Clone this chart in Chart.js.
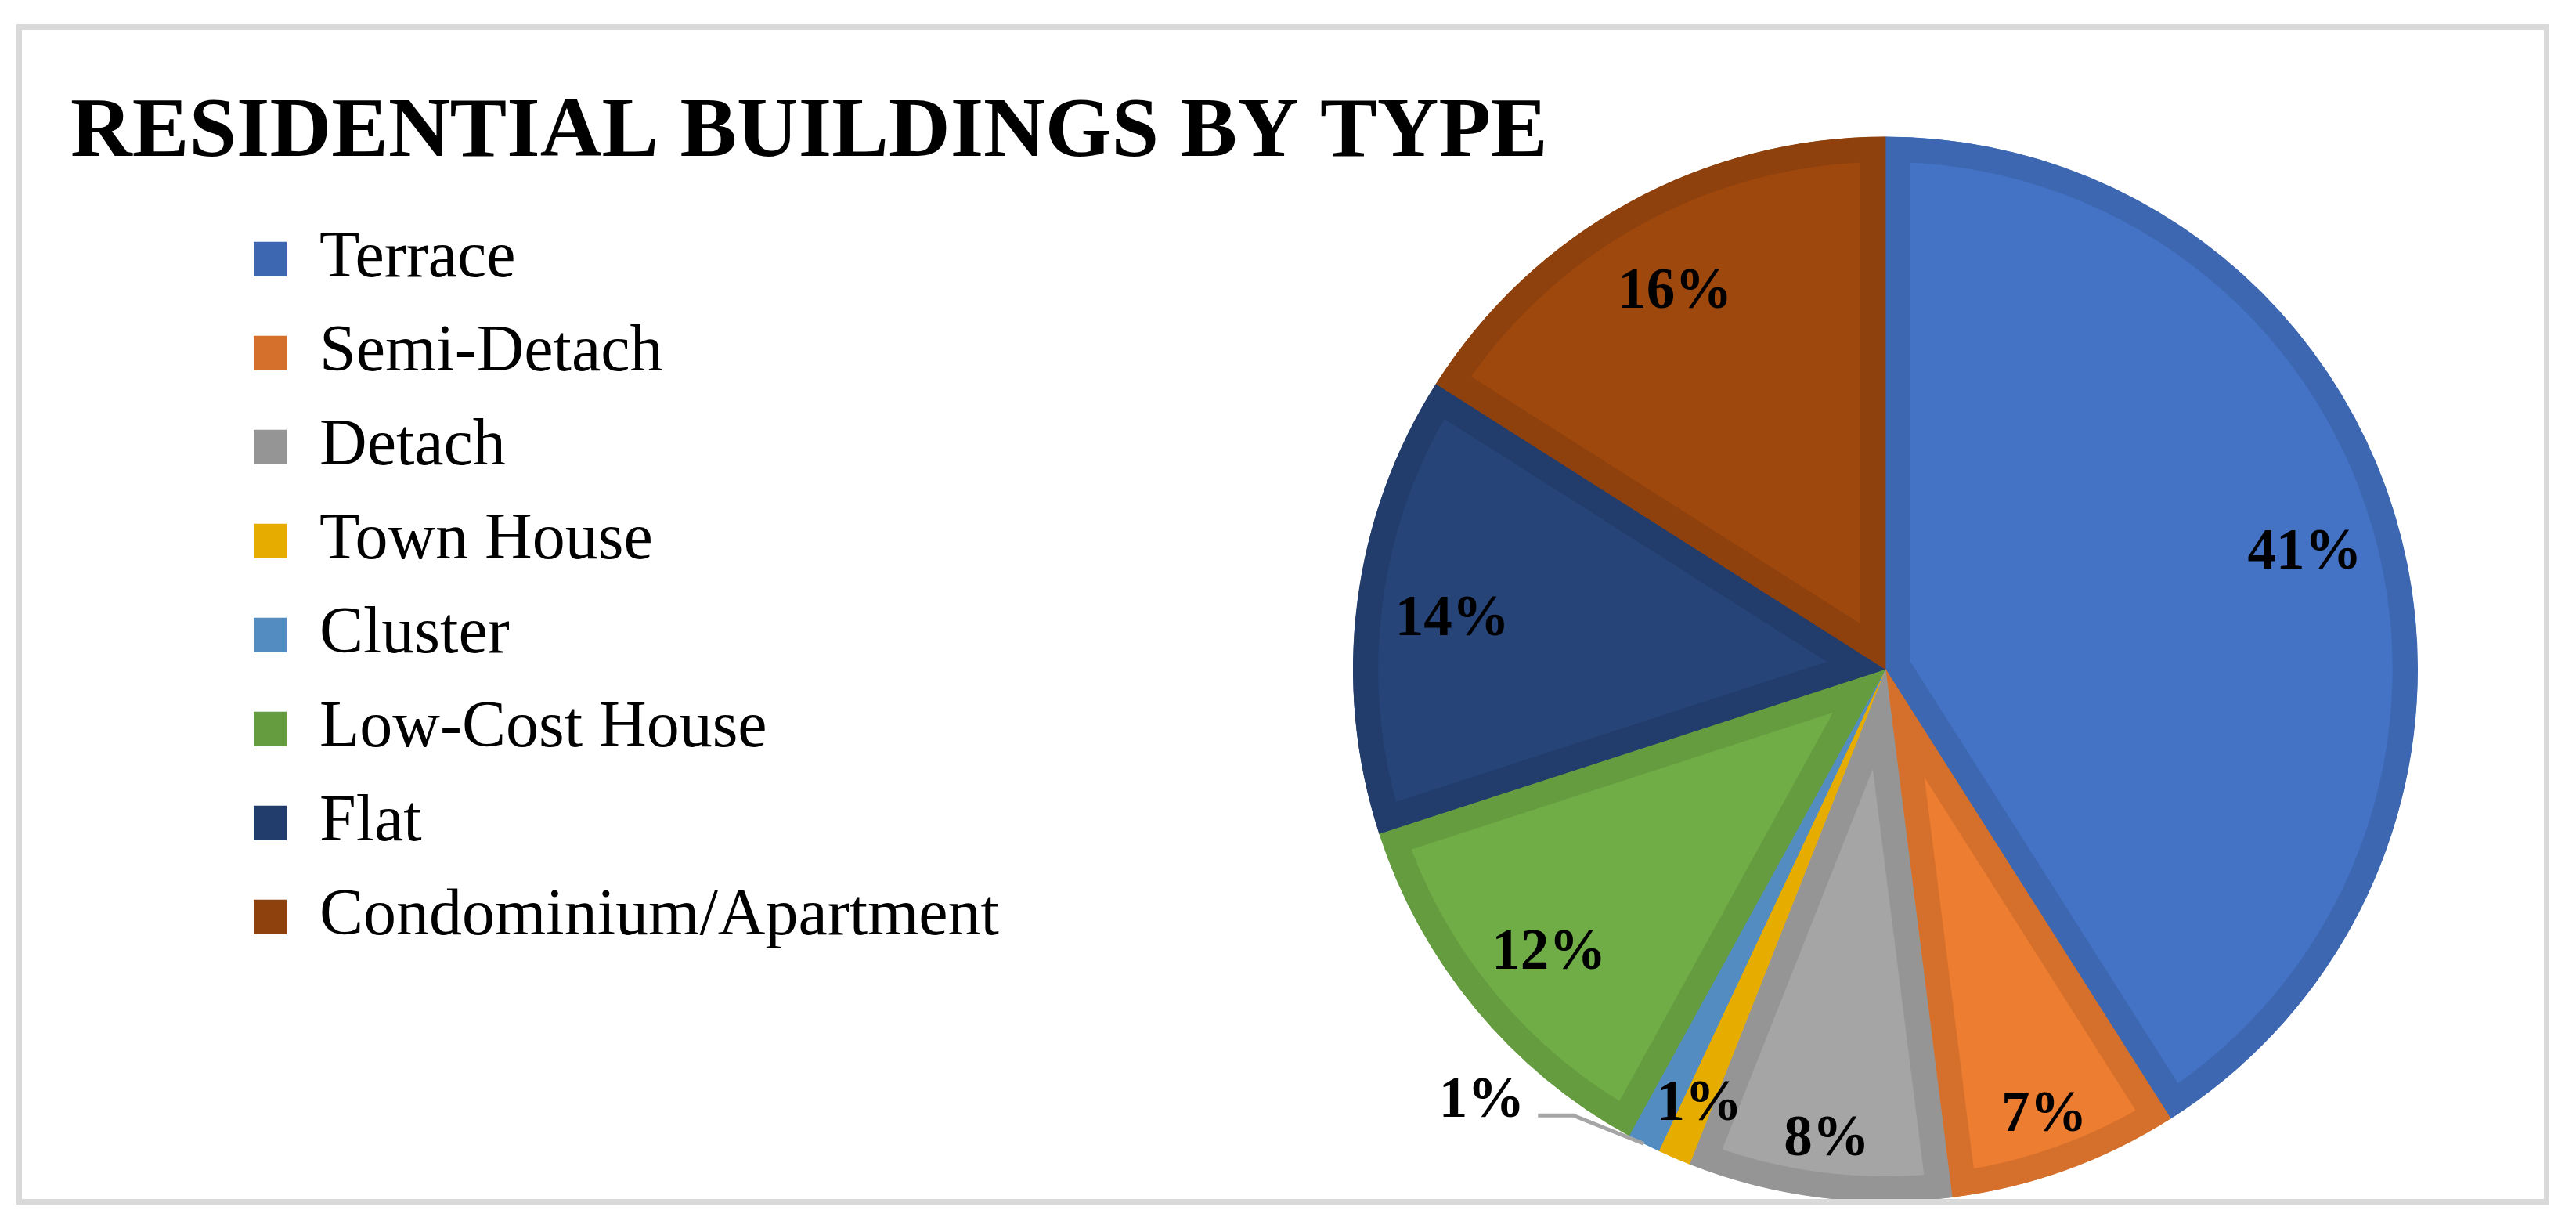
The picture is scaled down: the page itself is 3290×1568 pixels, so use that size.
<!DOCTYPE html>
<html>
<head>
<meta charset="utf-8">
<title>Residential Buildings by Type</title>
<script src="https://cdn.jsdelivr.net/npm/chart.js@4.4.1/dist/chart.umd.min.js"></script>
<style>
    html, body { margin: 0; padding: 0; background: #ffffff; }
    .frame {
        position: absolute;
        left: 21px;
        top: 31px;
        width: 3221px;
        height: 1493px;
        border: 7px solid #d9d9d9;
    }
</style>
</head>
<body>
<div class="frame"><canvas id="chart"></canvas></div>
<script>
var categories = ['Terrace', 'Semi-Detach', 'Detach', 'Town House', 'Cluster', 'Low-Cost House', 'Flat', 'Condominium/Apartment'];
var shares = [41, 7, 8, 1, 1, 12, 14, 16];
var fillColors = ['#4472c4', '#ed7d31', '#a5a5a5', '#ffc000', '#5b9bd5', '#70ad47', '#264478', '#9e480e'];
var edgeColors = ['#3d67b0', '#d5702c', '#959595', '#e6ad00', '#528cc0', '#659c40', '#223d6c', '#8e410d'];
var outsideLabels = ['Cluster'];

var legendLeft = 260;   // legend block is indented under the title
var pieCentreX = 2380;  // pie sits in the right part of the frame

// Chart.js puts the legend at the left padding and centres the pie in what is left,
// so move both after the layout pass
var placeBlocks = {
    id: 'placeBlocks',
    afterLayout: function(chart) {
        var legend = chart.legend;
        var w = legend.right - legend.left;
        legend.left = legendLeft;
        legend.right = legendLeft + w;
        var area = chart.chartArea;
        area.left = 2 * pieCentreX - area.right;
        area.width = area.right - area.left;
    }
};

var percentLabels = {
    id: 'percentLabels',
    afterDatasetsDraw: function(chart) {
        var ctx = chart.ctx;
        var arcs = chart.getDatasetMeta(0).data;
        ctx.save();
        ctx.font = 'bold 73px "Liberation Serif"';
        ctx.fillStyle = '#000000';
        for (var i = 0; i < arcs.length; i++) {
            var arc = arcs[i];
            var mid = (arc.startAngle + arc.endAngle) / 2;
            var text = shares[i] + '%';
            if (outsideLabels.indexOf(categories[i]) >= 0) {
                // leader line out of the slice, label to its left
                var sx = arc.x + Math.cos(mid) * arc.outerRadius;
                var sy = arc.y + Math.sin(mid) * arc.outerRadius;
                var ex = sx - 90, ey = sy - 36;
                ctx.strokeStyle = '#a5a5a5';
                ctx.lineWidth = 5;
                ctx.beginPath();
                ctx.moveTo(sx, sy);
                ctx.lineTo(ex, ey);
                ctx.lineTo(ex - 45, ey);
                ctx.stroke();
                ctx.textAlign = 'right';
                ctx.textBaseline = 'alphabetic';
                ctx.fillText(text, ex - 62, ey + 2);
            } else {
                var r = arc.outerRadius * (shares[i] > 10 ? 0.82 : 0.88);
                ctx.textAlign = 'center';
                ctx.textBaseline = 'middle';
                ctx.fillText(text, arc.x + Math.cos(mid) * r, arc.y + Math.sin(mid) * r + 8);
            }
        }
        ctx.restore();
    }
};

Chart.defaults.font.family = '"Liberation Serif", serif';
Chart.defaults.color = '#000000';

var ctx = document.getElementById('chart').getContext('2d');
var chart = new Chart(ctx, {
    type: 'pie',
    data: {
        labels: categories,
        datasets: [{
            data: shares,
            backgroundColor: fillColors,
            borderColor: edgeColors,
            borderWidth: 32,
            borderAlign: 'inner',
            borderJoinStyle: 'miter',
            hoverOffset: 0,
            radius: 680,
            clip: false
        }]
    },
    options: {
        responsive: true,
        maintainAspectRatio: false,
        animation: false,
        events: [],
        layout: {
            padding: { left: 62, top: 0, right: 0, bottom: 75 }
        },
        plugins: {
            title: {
                display: true,
                text: 'RESIDENTIAL BUILDINGS BY TYPE',
                align: 'start',
                color: '#000000',
                font: { size: 109, weight: 'bold' },
                padding: { top: 67, bottom: 17 }
            },
            legend: {
                position: 'left',
                align: 'start',
                fullSize: false,
                labels: {
                    boxWidth: 42,
                    boxHeight: 44,
                    padding: 36,
                    color: '#000000',
                    font: { size: 84 },
                    generateLabels: function(chart) {
                        return categories.map(function(name, i) {
                            return {
                                text: name,
                                fillStyle: edgeColors[i],
                                strokeStyle: edgeColors[i],
                                lineWidth: 0,
                                hidden: false,
                                index: i
                            };
                        });
                    }
                }
            },
            tooltip: { enabled: false }
        }
    },
    plugins: [placeBlocks, percentLabels]
});
</script>
</body>
</html>
